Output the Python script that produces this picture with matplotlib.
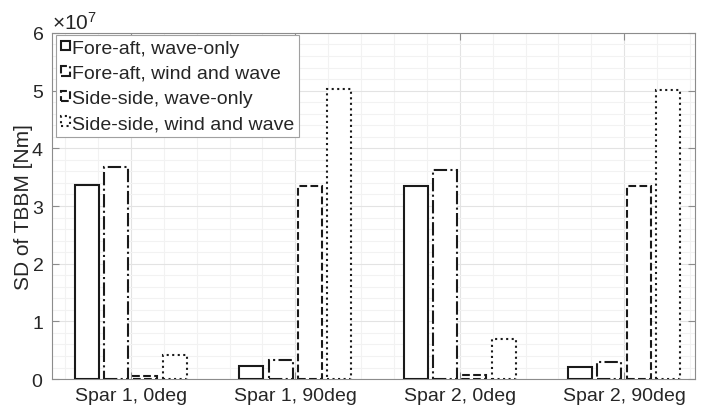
import numpy as np
import matplotlib.pyplot as plt
from matplotlib.patches import Patch
from matplotlib.ticker import ScalarFormatter, MultipleLocator

plt.rcParams['font.family'] = ['Liberation Sans', 'DejaVu Sans']
plt.rcParams['mathtext.fontset'] = 'custom'
plt.rcParams['mathtext.rm'] = 'Liberation Sans'

# standard deviation of tower base bending moment, Nm
cases = ['Spar 1, 0deg', 'Spar 1, 90deg', 'Spar 2, 0deg', 'Spar 2, 90deg']
series = ['Fore-aft, wave-only', 'Fore-aft, wind and wave',
          'Side-side, wave-only', 'Side-side, wind and wave']
fa_wave = [3.37e7, 0.22e7, 3.35e7, 0.21e7]
fa_windwave = [3.67e7, 0.33e7, 3.62e7, 0.29e7]
ss_wave = [0.06e7, 3.35e7, 0.07e7, 3.35e7]
ss_windwave = [0.42e7, 5.02e7, 0.69e7, 5.01e7]

styles = ['-', '-.', '--', ':']
offsets = [-0.268, -0.09, 0.088, 0.267]
width = 0.146

text_col = '#262626'
axis_col = '#8c8c8c'

fig = plt.figure(figsize=(7.02, 4.14), dpi=100)
ax = fig.add_axes([0.074, 0.082, 0.916, 0.836])

x = np.arange(1, len(cases) + 1)
handles = []
for vals, ls, off, name in zip([fa_wave, fa_windwave, ss_wave, ss_windwave],
                               styles, offsets, series):
    ax.bar(x + off, vals, width, facecolor='white', edgecolor='#1a1a1a',
           linestyle=ls, linewidth=1.5, zorder=3)
    handles.append(Patch(facecolor='white', edgecolor='#1a1a1a',
                         linestyle=ls, linewidth=1.5, label=name))

ax.set_xlim(0.52, 4.43)
ax.set_ylim(0, 6e7)
ax.set_xticks(x)
ax.set_xticklabels(cases)
ax.set_yticks(np.arange(0, 7) * 1e7)
ax.xaxis.set_minor_locator(MultipleLocator(0.2))
ax.yaxis.set_minor_locator(MultipleLocator(0.2e7))

fmt = ScalarFormatter(useMathText=True)
fmt.set_powerlimits((0, 0))
ax.yaxis.set_major_formatter(fmt)
ax.yaxis.get_offset_text().set_fontsize(15)
ax.yaxis.get_offset_text().set_color(text_col)

ax.grid(which='major', color='#e3e3e3', linewidth=0.8, zorder=0)
ax.grid(which='minor', color='#f2f2f2', linewidth=0.8, zorder=0)
ax.set_axisbelow(True)

ax.tick_params(which='major', direction='in', length=5, top=True, right=True,
               labelsize=14, colors=axis_col, labelcolor=text_col, pad=6)
ax.tick_params(which='minor', length=0)
for s in ax.spines.values():
    s.set_color(axis_col)
    s.set_linewidth(0.8)

ax.set_ylabel('SD of TBBM [Nm]', fontsize=15, color=text_col, labelpad=-1)

leg = ax.legend(handles=handles, loc='upper left', bbox_to_anchor=(0.006, 0.995),
                borderaxespad=0, fontsize=14, handlelength=0.5, handleheight=0.4,
                handletextpad=0.1, labelspacing=0.42, borderpad=0.25,
                fancybox=False, framealpha=1, edgecolor='#a0a0a0')
for t in leg.get_texts():
    t.set_color(text_col)
leg.get_frame().set_linewidth(0.8)

fig.savefig('out.png', dpi=100)
